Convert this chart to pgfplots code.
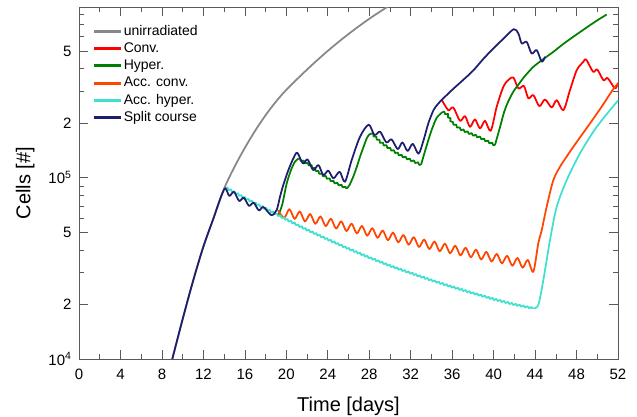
\documentclass[border=0pt]{standalone}
\usepackage{fontspec}
\setmainfont{Liberation Sans}
\usepackage{pgfplots}
\pgfplotsset{compat=1.18}
\usetikzlibrary{decorations.pathmorphing}
\definecolor{cgray}{RGB}{135,135,135}
\definecolor{cred}{RGB}{255,0,0}
\definecolor{cgreen}{RGB}{0,128,0}
\definecolor{corange}{RGB}{255,69,0}
\definecolor{ccyan}{RGB}{64,224,208}
\definecolor{cnavy}{RGB}{30,30,110}
\begin{document}
\begin{tikzpicture}
\begin{axis}[
  scale only axis, width=539pt, height=351.5pt,
  xmin=0, xmax=52, ymode=log, ymin=1e4, ymax=8.7e5,
  xtick={0,4,...,52}, xticklabels={0,4,8,12,16,20,24,28,32,36,40,44,48,52},
  minor xtick={2,6,...,50},
  ytick={1e4,2e4,5e4,1e5,2e5,5e5},
  yticklabels={10\textsuperscript{4},2,5,10\textsuperscript{5},2,5},
  minor ytick={3e4,4e4,6e4,7e4,8e4,9e4,3e5,4e5,6e5,7e5,8e5},
  tick align=inside, major tick length=9pt, minor tick length=5pt,
  tick style={black!65, line width=0.6pt},
  axis line style={black!65, line width=0.8pt},
  ticklabel style={font=\fontsize{15}{17}\selectfont},
  xticklabel style={yshift=-7pt},
  yticklabel style={xshift=-4pt},
  xlabel={Time [days]}, ylabel={Cells [\#]},
  label style={font=\fontsize{20}{22}\selectfont},
  xlabel style={at={(axis description cs:0.5,-0.098)}, anchor=north},
  ylabel style={at={(axis description cs:-0.1,0.5)}, anchor=center},
  legend style={at={(axis description cs:0.02,0.96)}, anchor=north west, draw=none, fill=none,
    font=\fontsize{14}{15}\selectfont, row sep=2.2pt,
    nodes={inner sep=0.8pt, text height=10.5pt, text depth=3pt}},
  legend cell align=left,
  legend image code/.code={\draw[#1, line width=3pt] (0pt,0pt) -- (27pt,0pt);},
  every axis plot/.append style={line width=1.75pt, line join=round},
]
\addlegendimage{cgray, line width=3pt}\addlegendentry{unirradiated}
\addlegendimage{cred, line width=3pt}\addlegendentry{Conv.}
\addlegendimage{cgreen, line width=3pt}\addlegendentry{Hyper.}
\addlegendimage{corange, line width=3pt}\addlegendentry{Acc. conv.}
\addlegendimage{ccyan, line width=3pt}\addlegendentry{Acc. hyper.}
\addlegendimage{cnavy, line width=3pt}\addlegendentry{Split course}

% unirradiated
\addplot[cgray, smooth, forget plot] coordinates {
(8.8,9.0e3) (9,1.00e4) (10,1.66e4) (11,2.69e4) (12,4.17e4) (13,6.03e4) (14,8.71e4)
(15,1.148e5) (16,1.462e5) (17,1.82e5) (18,2.213e5) (19,2.63e5) (20,3.055e5)
(22,3.954e5) (24,5.012e5) (26,6.209e5) (28,7.534e5) (30,8.954e5)};

% Conv.
\addplot[cred, smooth, tension=0.5, forget plot] coordinates {
(35.0,2.69e5) (35.63,2.36e5) (36.11,2.443e5) (36.76,2.061e5) (37.24,2.188e5) (37.72,1.91e5)
(38.2,2.099e5) (38.69,1.871e5) (39.17,2.061e5) (39.72,1.816e5) (40.3,2.466e5) (40.94,3.177e5)
(41.42,3.459e5) (41.9,3.581e5) (42.39,3.112e5) (42.93,3.206e5) (43.35,2.742e5) (43.83,2.858e5)
(44.41,2.483e5) (44.96,2.704e5) (45.6,2.443e5) (46.09,2.679e5) (46.73,2.36e5) (47.37,3.048e5)
(48.02,3.926e5) (48.66,4.365e5) (48.92,4.498e5) (49.6,3.846e5) (50.0,3.954e5) (50.6,3.451e5)
(51.0,3.548e5) (51.71,3.112e5) (52.0,3.342e5)};

% Hyper.
\addplot[cgreen, smooth, tension=0.4, forget plot] coordinates {
(19.23,6.22e4) (19.6,7.08e4) (20.04,9.31e4) (20.5,1.122e5) (20.85,1.23e5) (21.16,1.274e5)};
\addplot[cgreen, decorate, decoration={zigzag, segment length=4.5pt, amplitude=0.9pt}, forget plot] coordinates {
(21.16,1.274e5) (22.29,1.175e5) (23.25,1.057e5) (24.53,9.51e4) (25.85,8.73e4)};
\addplot[cgreen, smooth, tension=0.4, forget plot] coordinates {
(25.85,8.73e4) (26.1,9.12e4) (26.46,1.014e5) (26.8,1.148e5) (27.11,1.306e5) (27.45,1.479e5)
(27.75,1.648e5) (28.0,1.73e5) (28.25,1.758e5)};
\addplot[cgreen, decorate, decoration={zigzag, segment length=4.5pt, amplitude=0.9pt}, forget plot] coordinates {
(28.25,1.758e5) (29.04,1.581e5) (30.0,1.445e5) (30.97,1.334e5) (32.0,1.253e5) (33.0,1.18e5)};
\addplot[cgreen, smooth, tension=0.4, forget plot] coordinates {
(33.0,1.18e5) (33.5,1.479e5) (34.0,1.82e5) (34.5,2.138e5) (35.1,2.312e5)};
\addplot[cgreen, decorate, decoration={zigzag, segment length=4.5pt, amplitude=0.9pt}, forget plot] coordinates {
(35.1,2.312e5) (35.5,2.239e5) (36.0,2.018e5) (36.76,1.862e5) (37.7,1.758e5) (38.69,1.667e5)
(39.5,1.578e5) (40.13,1.514e5)};
\addplot[cgreen, smooth, tension=0.4, forget plot] coordinates {
(40.13,1.514e5) (40.62,1.905e5) (41.0,2.291e5) (41.4,2.63e5) (41.9,2.985e5) (42.4,3.27e5)
(43.0,3.63e5) (43.83,4.09e5) (44.8,4.52e5) (45.76,4.95e5) (46.7,5.46e5) (47.69,6.0e5)
(48.5,6.46e5) (49.3,6.95e5) (50.1,7.45e5) (50.91,7.96e5)};

% Acc. conv.
\addplot[corange, smooth, tension=0.5, forget plot] coordinates {
(19.2,6.61e4) (19.8,6.01e4) (20.3,6.71e4) (20.8,5.93e4) (21.3,6.52e4) (21.8,5.74e4)
(22.3,6.31e4) (22.8,5.57e4) (23.3,6.12e4) (23.8,5.41e4) (24.3,5.94e4) (24.8,5.24e4)
(25.3,5.75e4) (25.8,5.08e4) (26.3,5.58e4) (26.8,4.93e4) (27.3,5.42e4) (27.8,4.79e4)
(28.3,5.27e4) (28.8,4.66e4) (29.3,5.12e4) (29.8,4.52e4) (30.3,4.98e4) (30.8,4.40e4)
(31.3,4.83e4) (31.8,4.27e4) (32.3,4.70e4) (32.8,4.15e4) (33.3,4.56e4) (33.8,4.04e4)
(34.3,4.45e4) (34.8,3.93e4) (35.3,4.33e4) (35.8,3.83e4) (36.3,4.22e4) (36.8,3.73e4)
(37.3,4.11e4) (37.8,3.64e4) (38.3,4.01e4) (38.8,3.54e4) (39.3,3.90e4) (39.8,3.45e4)
(40.3,3.80e4) (40.8,3.37e4) (41.3,3.71e4) (41.8,3.27e4) (42.3,3.61e4) (42.8,3.19e4)
(43.3,3.52e4) (43.83,3.03e4) (44.31,4.35e4) (44.64,5.14e4) (45.12,6.92e4) (45.76,9.70e4)
(46.41,1.151e5) (47.0,1.297e5) (47.69,1.483e5) (48.5,1.722e5) (49.3,1.995e5) (50.4,2.455e5)
(51.55,3.09e5) (52.0,3.31e5)};

% Acc. hyper.
\addplot[ccyan, decorate, decoration={zigzag, segment length=4pt, amplitude=0.9pt}, forget plot] coordinates {
(14.2,8.81e4) (16,7.73e4) (18,6.76e4) (20,5.89e4) (22,5.16e4) (24,4.57e4) (26,4.06e4)
(28,3.63e4) (30,3.27e4) (32,2.98e4) (34,2.72e4) (36,2.50e4) (38,2.31e4) (40,2.14e4)
(42,2.00e4) (43.83,1.905e4)};
\addplot[ccyan, smooth, tension=0.5, forget plot] coordinates {
(43.83,1.905e4) (44.31,1.986e4) (44.8,2.73e4) (45.44,4.53e4) (46.09,6.92e4) (47.05,9.70e4)
(48.34,1.365e5) (49.95,1.91e5) (52.0,2.67e5)};

% Split course
\addplot[cnavy, smooth, tension=0.5, forget plot] coordinates {
(8.8,9.0e3) (9,1.0e4) (10,1.66e4) (11,2.69e4) (12,4.17e4) (13,6.03e4) (13.6,7.59e4) (14.1,8.75e4)
(14.5,7.94e4) (14.95,8.36e4) (15.45,7.45e4) (15.9,7.76e4) (16.4,7.00e4) (16.85,7.28e4)
(17.35,6.61e4) (17.8,6.89e4) (18.55,6.22e4) (19.07,6.64e4) (19.39,7.85e4) (19.71,9.12e4)
(20.2,1.102e5) (20.68,1.279e5) (21.06,1.374e5)
(21.6,1.199e5) (22.05,1.262e5) (22.6,1.102e5) (23.1,1.175e5) (23.57,1.035e5) (24.05,1.094e5)
(24.55,9.93e4) (25.15,1.079e5) (25.66,9.51e4) (26.31,1.253e5) (27.11,1.683e5) (27.95,1.963e5)
(28.5,1.722e5) (29.05,1.795e5) (29.65,1.567e5) (30.15,1.629e5) (30.75,1.439e5) (31.2,1.567e5)
(31.7,1.406e5) (32.2,1.538e5) (32.75,1.358e5) (33.2,1.581e5) (33.7,1.995e5) (34.2,2.36e5)
(34.6,2.54e5) (35.0,2.69e5) (36,3.055e5) (37,3.44e5) (38,3.89e5) (39,4.52e5) (40,5.19e5)
(41,5.89e5) (41.95,6.61e5) (42.39,6.25e5) (42.71,5.51e5) (43.19,5.62e5) (43.67,4.85e5)
(44.16,5.06e5) (44.64,4.37e5) (44.96,4.65e5)};
\end{axis}
\pgfresetboundingbox
\path[use as bounding box] (-79pt,-58pt) rectangle (558pt,359pt);
\end{tikzpicture}
\end{document}
